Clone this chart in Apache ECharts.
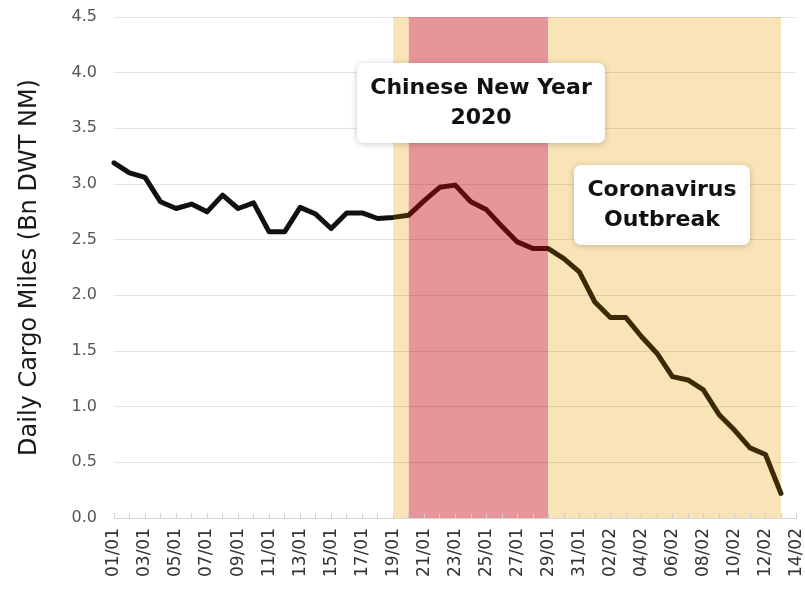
<!DOCTYPE html>
<html>
<head>
<meta charset="utf-8">
<script src="https://cdn.jsdelivr.net/npm/echarts@6/dist/echarts.min.js"></script>
<style>
  html, body { margin: 0; padding: 0; background: #ffffff; }
  #chart { width: 805px; height: 589px; }
</style>
</head>
<body>
<div id="chart"></div>
<script>
// Daily dates on the x axis (01/01 .. 14/02)
const dates = [
  '01/01','02/01','03/01','04/01','05/01','06/01','07/01','08/01','09/01','10/01',
  '11/01','12/01','13/01','14/01','15/01','16/01','17/01','18/01','19/01','20/01',
  '21/01','22/01','23/01','24/01','25/01','26/01','27/01','28/01','29/01','30/01',
  '31/01','01/02','02/02','03/02','04/02','05/02','06/02','07/02','08/02','09/02',
  '10/02','11/02','12/02','13/02','14/02'
];

// Daily cargo miles, billions of DWT nautical miles (01/01 .. 13/02)
const cargoMiles = [
  3.19, 3.10, 3.06, 2.84, 2.78, 2.82, 2.75, 2.90, 2.78, 2.83,
  2.57, 2.57, 2.79, 2.73, 2.60, 2.74, 2.74, 2.69, 2.70, 2.72,
  2.85, 2.97, 2.99, 2.84, 2.77, 2.62, 2.48, 2.42, 2.42, 2.33,
  2.21, 1.94, 1.80, 1.80, 1.63, 1.48, 1.27, 1.24, 1.15, 0.93,
  0.79, 0.63, 0.57, 0.22
];

// Highlighted periods
const outbreakPeriod = ['19/01', '13/02'];
const newYearPeriod = ['20/01', '29/01'];

const yTicks = { min: 0, max: 4.5, step: 0.5 };

const newYearIdx = [dates.indexOf(newYearPeriod[0]), dates.indexOf(newYearPeriod[1])];
const outbreakIdx = [dates.indexOf(outbreakPeriod[0]), dates.indexOf(outbreakPeriod[1])];

const FONT = 'DejaVu Sans';

const chart = echarts.init(document.getElementById('chart'), null, { renderer: 'canvas' });

const noteBox = (left, top, width, height, text) => ({
  type: 'group',
  left: left,
  top: top,
  children: [
    {
      type: 'rect',
      z: 100,
      shape: { x: 0, y: 0, width: width, height: height, r: 7 },
      style: { fill: '#ffffff', shadowBlur: 6, shadowColor: 'rgba(0,0,0,0.22)', shadowOffsetY: 1 }
    },
    {
      type: 'text',
      z: 101,
      x: width / 2,
      y: height / 2,
      style: {
        text: text,
        align: 'center',
        verticalAlign: 'middle',
        fontFamily: FONT,
        fontWeight: 'bold',
        fontSize: 22,
        lineHeight: 30,
        fill: '#111111'
      }
    }
  ]
});

chart.setOption({
  backgroundColor: '#ffffff',
  animation: false,
  grid: { left: 114, right: 3, top: 17, bottom: 71 },
  xAxis: {
    type: 'category',
    data: dates,
    boundaryGap: false,
    z: 5,
    axisLine: { show: true, lineStyle: { color: '#d6d6d6', width: 1 } },
    axisTick: { show: true, interval: 0, length: 5, inside: true, lineStyle: { color: '#cfcfcf' } },
    axisLabel: {
      interval: 1,
      rotate: 90,
      margin: 10,
      color: '#333333',
      fontFamily: FONT,
      fontSize: 17
    },
    splitLine: { show: false }
  },
  yAxis: {
    type: 'value',
    min: yTicks.min,
    max: yTicks.max,
    interval: yTicks.step,
    z: 5,
    name: 'Daily Cargo Miles (Bn DWT NM)',
    nameLocation: 'middle',
    nameGap: 72,
    nameTextStyle: { color: '#1a1a1a', fontFamily: FONT, fontSize: 24 },
    axisLine: { show: false },
    axisTick: { show: false },
    axisLabel: {
      color: '#555555',
      fontFamily: FONT,
      fontSize: 16,
      margin: 17,
      formatter: v => v.toFixed(1)
    },
    splitLine: { show: true, lineStyle: { color: 'rgba(0,0,0,0.1)', width: 1 } }
  },
  visualMap: {
    show: false,
    type: 'piecewise',
    dimension: 0,
    seriesIndex: 1,
    pieces: [
      { lt: outbreakIdx[0], color: '#111111' },
      { gte: outbreakIdx[0], lt: newYearIdx[0], color: '#3a2a06' },
      { gte: newYearIdx[0], lt: newYearIdx[1], color: '#5c0b0b' },
      { gte: newYearIdx[1], color: '#3d2a05' }
    ]
  },
  series: [
    {
      // shaded periods, kept beneath the grid lines
      type: 'line',
      z: 1,
      data: [],
      silent: true,
      markArea: {
        silent: true,
        z: 1,
        data: [
          [{ xAxis: outbreakPeriod[0], itemStyle: { color: '#f9e4b7' } }, { xAxis: newYearPeriod[0] }],
          [{ xAxis: newYearPeriod[0], itemStyle: { color: '#e8959a' } }, { xAxis: newYearPeriod[1] }],
          [{ xAxis: newYearPeriod[1], itemStyle: { color: '#f9e4b7' } }, { xAxis: outbreakPeriod[1] }]
        ]
      }
    },
    {
      type: 'line',
      data: cargoMiles,
      showSymbol: false,
      symbol: 'none',
      lineStyle: { width: 5, join: 'round', cap: 'round' },
      z: 10
    }
  ],
  graphic: [
    noteBox(357, 63, 248, 80, 'Chinese New Year\n2020'),
    noteBox(574, 165, 176, 80, 'Coronavirus\nOutbreak')
  ]
});
</script>
</body>
</html>
